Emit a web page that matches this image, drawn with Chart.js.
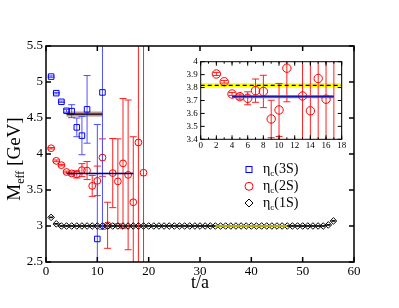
<!DOCTYPE html>
<html>
<head>
<meta charset="utf-8">
<script src="https://cdn.jsdelivr.net/npm/chart.js@4.4.0/dist/chart.umd.min.js"></script>
<style>
html, body { margin: 0; padding: 0; background: #fff; }
#wrap { position: relative; width: 399px; height: 308px; }
#main { position: absolute; left: 0; top: 0; }
#inset { position: absolute; left: 170px; top: 50px; }
</style>
</head>
<body>
<div id="wrap">
<canvas id="main" width="399" height="308"></canvas>
<canvas id="inset" width="180" height="110"></canvas>
</div>
<script>
// eta_c(3S) effective mass
const t3S = [1, 2, 3, 4, 5, 6, 7, 8, 10, 11];
const m3S = [5.075, 4.845, 4.725, 4.60, 4.595, 4.37, 4.255, 4.62, 2.82, 4.855];
const e3S = [0.01, 0.01, 0.01, 0.02, 0.09, 0.13, 0.265, 0.47, 1.59, 1.9];

// eta_c(2S)
const t2S = [1, 2, 3, 4, 5, 6, 7, 8, 9, 10, 11, 12, 13, 14, 15, 16, 17, 18, 19];
const m2S = [4.08, 3.905, 3.845, 3.75, 3.73, 3.717, 3.776, 3.77, 3.557, 3.627,
             3.95, 3.01, 3.735, 3.62, 3.87, 3.71, 3.33, 4.16, 3.74];
const e2S = [0.01, 0.012, 0.01, 0.012, 0.02, 0.05, 0.09, 0.125, 0.145, 0.205,
             0.26, 0.32, 0.48, 0.59, 0.9, 1.04, 0.91, 3.0, 3.0];

// eta_c(1S)
const t1S = [1, 2, 3, 4, 5, 6, 7, 8, 9, 10, 11, 12, 13, 14, 15, 16, 17, 18, 19, 20,
             21, 22, 23, 24, 25, 26, 27, 28, 29, 30, 31, 32, 33, 34, 35, 36, 37, 38, 39, 40,
             41, 42, 43, 44, 45, 46, 47, 48, 49, 50, 51, 52, 53, 54, 55, 56];
const m1S = [3.12, 3.03, 3.0, 3.0, 3.0, 3.0, 3.0, 3.0, 3.0, 3.0, 3.0, 3.0, 3.0, 3.0, 3.0, 3.0, 3.0, 3.0, 3.0, 3.0,
             3.0, 3.0, 3.0, 3.0, 3.0, 3.0, 3.0, 3.0, 3.0, 3.0, 3.0, 3.0, 3.0, 3.0, 3.0, 3.0, 3.0, 3.0, 3.0, 3.0,
             3.0, 3.0, 3.0, 3.0, 3.0, 3.0, 3.0, 3.0, 3.0, 3.0, 3.0, 3.0, 3.0, 3.0, 3.015, 3.07];

// fits: [from t, to t] and [value, half width of band]
const fitRange3S = [4, 11];
const fitValue3S = [4.555, 0.035];
const fitRange2S = [4, 17];
const fitValue2S = [3.73, 0.012];
const fitRange1S = [33, 47];
const fitValue1S = [3.0, 0];
const expRange2S = [0, 18];
const expValue2S = [3.817, 0.017];

const legendNames = ['(3S)', '(2S)', '(1S)'];

const SERIF = '"Liberation Serif", "Times New Roman", serif';

function pts(ts, ms) {
    return ts.map((t, i) => ({ x: t, y: ms[i] }));
}
function flat(range, value) {
    return [{ x: range[0], y: value[0] }, { x: range[1], y: value[0] }];
}
function clipArea(ctx, a) {
    ctx.beginPath();
    ctx.rect(a.left, a.top, a.right - a.left, a.bottom - a.top);
    ctx.clip();
}
// 3.0 -> "3", 2.5 -> "2.5"
function plain(v) {
    return String(parseFloat(Number(v).toFixed(3)));
}

const bandsPlugin = {
    id: 'bands',
    beforeDatasetsDraw(chart, args, opts) {
        const { ctx, chartArea: a, scales: { x, y } } = chart;
        ctx.save();
        clipArea(ctx, a);
        (opts.list || []).forEach(b => {
            const x0 = x.getPixelForValue(b.range[0]);
            const x1 = x.getPixelForValue(b.range[1]);
            const y0 = y.getPixelForValue(b.value[0] + b.value[1]);
            const y1 = y.getPixelForValue(b.value[0] - b.value[1]);
            ctx.fillStyle = b.color;
            ctx.fillRect(x0, y0, x1 - x0, y1 - y0);
        });
        ctx.restore();
    }
};

const errorBarsPlugin = {
    id: 'errorBars',
    beforeDatasetsDraw(chart, args, opts) {
        const { ctx, chartArea: a, scales: { x, y } } = chart;
        ctx.save();
        clipArea(ctx, a);
        (opts.sets || []).forEach(s => {
            ctx.strokeStyle = s.color;
            ctx.lineWidth = s.width || 1;
            s.t.forEach((t, i) => {
                if (t < x.min || t > x.max) return;
                const xp = x.getPixelForValue(t);
                const yHi = y.getPixelForValue(s.m[i] + s.e[i]);
                const yLo = y.getPixelForValue(s.m[i] - s.e[i]);
                ctx.beginPath();
                ctx.moveTo(xp, yLo); ctx.lineTo(xp, yHi);
                ctx.moveTo(xp - s.cap, yLo); ctx.lineTo(xp + s.cap, yLo);
                ctx.moveTo(xp - s.cap, yHi); ctx.lineTo(xp + s.cap, yHi);
                ctx.stroke();
            });
        });
        ctx.restore();
    }
};

const framePlugin = {
    id: 'frame',
    beforeDraw(chart, args, o) {
        if (!o.fill) return;
        const { ctx, chartArea: a } = chart;
        ctx.save();
        ctx.fillStyle = o.fill;
        ctx.fillRect(a.left, a.top, a.right - a.left, a.bottom - a.top);
        ctx.restore();
    },
    afterDatasetsDraw(chart, args, o) {
        const { ctx, chartArea: a, scales: { x, y } } = chart;
        ctx.save();
        ctx.strokeStyle = '#000';
        ctx.lineWidth = o.lw;
        ctx.beginPath();
        const xMark = (v, len) => {
            const p = x.getPixelForValue(v);
            ctx.moveTo(p, a.bottom); ctx.lineTo(p, a.bottom - len);
            ctx.moveTo(p, a.top); ctx.lineTo(p, a.top + len);
        };
        const yMark = (v, len) => {
            const p = y.getPixelForValue(v);
            ctx.moveTo(a.left, p); ctx.lineTo(a.left + len, p);
            ctx.moveTo(a.right, p); ctx.lineTo(a.right - len, p);
        };
        x.ticks.forEach(tk => xMark(tk.value, o.len));
        y.ticks.forEach(tk => yMark(tk.value, o.len));
        if (o.xMinor) {
            for (let v = x.min; v <= x.max + 1e-9; v += o.xMinor) xMark(v, o.len / 2);
        }
        if (o.yMinor) {
            for (let v = y.min; v <= y.max + 1e-9; v += o.yMinor) yMark(v, o.len / 2);
        }
        ctx.stroke();
        ctx.strokeRect(a.left, a.top, a.right - a.left, a.bottom - a.top);
        ctx.restore();
    }
};

// axis titles and legend with subscripts
const textPlugin = {
    id: 'texts',
    afterDraw(chart) {
        const { ctx } = chart;
        ctx.save();
        ctx.fillStyle = '#000';
        ctx.textBaseline = 'alphabetic';

        // y title
        const big = '19px ' + SERIF, sub = '12px ' + SERIF;
        ctx.font = big; const wM = ctx.measureText('M').width;
        const wG = ctx.measureText(' [GeV]').width;
        ctx.font = sub; const wE = ctx.measureText('eff').width;
        ctx.translate(20, 159);
        ctx.rotate(-Math.PI / 2);
        let xx = -(wM + wE + wG) / 2;
        ctx.font = big; ctx.fillText('M', xx, 0); xx += wM;
        ctx.font = sub; ctx.fillText('eff', xx, 4); xx += wE;
        ctx.font = big; ctx.fillText(' [GeV]', xx, 0);
        ctx.setTransform(1, 0, 0, 1, 0, 0);

        // x title
        ctx.font = '18px ' + SERIF;
        ctx.textAlign = 'center';
        ctx.fillText('t/a', 200, 288);
        ctx.textAlign = 'left';

        // legend
        const rows = [169.5, 186.3, 203];
        const symX = 249;
        ctx.lineWidth = 1;
        ctx.strokeStyle = '#0000ff';
        ctx.strokeRect(symX - 3, rows[0] - 3, 6, 6);
        ctx.strokeStyle = '#ff0000';
        ctx.beginPath(); ctx.arc(symX, rows[1], 4, 0, Math.PI * 2); ctx.stroke();
        ctx.strokeStyle = '#000';
        ctx.beginPath();
        ctx.moveTo(symX - 4, rows[2]); ctx.lineTo(symX, rows[2] - 4);
        ctx.lineTo(symX + 4, rows[2]); ctx.lineTo(symX, rows[2] + 4); ctx.closePath();
        ctx.stroke();

        legendNames.forEach((name, i) => {
            const base = rows[i] + 3.5;
            let tx = 263;
            ctx.font = '14px ' + SERIF;
            ctx.fillText('\u03b7', tx, base); tx += ctx.measureText('\u03b7').width;
            ctx.font = '9px ' + SERIF;
            ctx.fillText('c', tx, base + 3); tx += ctx.measureText('c').width;
            ctx.font = '14px ' + SERIF;
            ctx.fillText(name, tx, base);
        });
        ctx.restore();
    }
};

const pointBase = { backgroundColor: 'rgba(0,0,0,0)', borderWidth: 1 };
const noGrid = { display: false, drawTicks: false };

new Chart(document.getElementById('main'), {
    type: 'scatter',
    data: {
        datasets: [
            { data: flat(fitRange1S, fitValue1S), showLine: true, borderColor: '#b4b400', borderWidth: 2, pointRadius: 0 },
            Object.assign({ data: pts(t1S, m1S), pointStyle: 'rectRot', pointRadius: 3.3, borderColor: '#000' }, pointBase),
            { data: flat(fitRange2S, fitValue2S), showLine: true, borderColor: '#00007a', borderWidth: 1.5, pointRadius: 0 },
            Object.assign({ data: pts(t2S, m2S), pointStyle: 'circle', pointRadius: 3.4, borderColor: '#ff0000' }, pointBase),
            { data: flat(fitRange3S, fitValue3S), showLine: true, borderColor: '#000', borderWidth: 1.2, pointRadius: 0 },
            Object.assign({ data: pts(t3S, m3S), pointStyle: 'rect', pointRadius: 3.9, borderColor: '#0000ff' }, pointBase)
        ]
    },
    options: {
        responsive: false,
        animation: false,
        events: [],
        layout: { padding: { left: 0, top: 46, right: 45, bottom: 0 } },
        plugins: {
            legend: { display: false },
            tooltip: { enabled: false },
            bands: { list: [
                { range: fitRange3S, value: fitValue3S, color: 'rgba(170,110,110,0.75)' },
                { range: fitRange2S, value: [fitValue2S[0], 0.008], color: 'rgba(60,60,255,0.6)' }
            ] },
            errorBars: { sets: [
                { t: t1S, m: m1S, e: t1S.map(() => 0.004), color: '#000', cap: 2 },
                { t: t2S, m: m2S, e: e2S, color: '#ff2020', cap: 3.5 },
                { t: t3S, m: m3S, e: e3S, color: '#5050ff', cap: 3.5 }
            ] },
            frame: { lw: 1.5, len: 5 }
        },
        scales: {
            x: {
                type: 'linear', min: 0, max: 60,
                ticks: { stepSize: 10, color: '#000', font: { family: SERIF, size: 13 }, padding: 2, maxRotation: 0, autoSkip: false, callback: plain },
                grid: noGrid, border: { display: false },
                afterFit(s) { s.height = 46; }
            },
            y: {
                type: 'linear', min: 2.5, max: 5.5,
                ticks: { stepSize: 0.5, color: '#000', font: { family: SERIF, size: 13 }, padding: 3, autoSkip: false, callback: plain },
                grid: noGrid, border: { display: false },
                afterFit(s) { s.width = 46; }
            }
        }
    },
    plugins: [framePlugin, bandsPlugin, errorBarsPlugin, textPlugin]
});

new Chart(document.getElementById('inset'), {
    type: 'scatter',
    data: {
        datasets: [
            { data: flat(expRange2S, expValue2S), showLine: true, borderColor: '#000', borderWidth: 1.3, borderDash: [4, 3], pointRadius: 0 },
            { data: flat(fitRange2S, fitValue2S), showLine: true, borderColor: '#1010a0', borderWidth: 1, pointRadius: 0 },
            Object.assign({ data: pts(t2S, m2S), pointStyle: 'circle', pointRadius: 4.2, borderColor: '#ff0000' }, pointBase)
        ]
    },
    options: {
        responsive: false,
        animation: false,
        events: [],
        layout: { padding: { left: 0, top: 11.7, right: 8.3, bottom: 0 } },
        plugins: {
            legend: { display: false },
            tooltip: { enabled: false },
            bands: { list: [
                { range: expRange2S, value: expValue2S, color: '#ffff00' },
                { range: fitRange2S, value: fitValue2S, color: 'rgba(70,70,255,0.85)' }
            ] },
            errorBars: { sets: [
                { t: t2S, m: m2S, e: e2S, color: '#ff2020', cap: 3.5 }
            ] },
            frame: { lw: 1, len: 4, xMinor: 1, fill: '#fff' }
        },
        scales: {
            x: {
                type: 'linear', min: 0, max: 18,
                ticks: { stepSize: 2, color: '#000', font: { family: SERIF, size: 9 }, padding: 1, maxRotation: 0, autoSkip: false, callback: plain },
                grid: noGrid, border: { display: false },
                afterFit(s) { s.height = 20.7; }
            },
            y: {
                type: 'linear', min: 3.4, max: 4.0,
                ticks: { stepSize: 0.1, color: '#000', font: { family: SERIF, size: 9, lineHeight: 1 }, padding: 3, autoSkip: false, callback: plain },
                grid: noGrid, border: { display: false },
                afterFit(s) { s.width = 30.7; }
            }
        }
    },
    plugins: [framePlugin, bandsPlugin, errorBarsPlugin]
});
</script>
</body>
</html>
